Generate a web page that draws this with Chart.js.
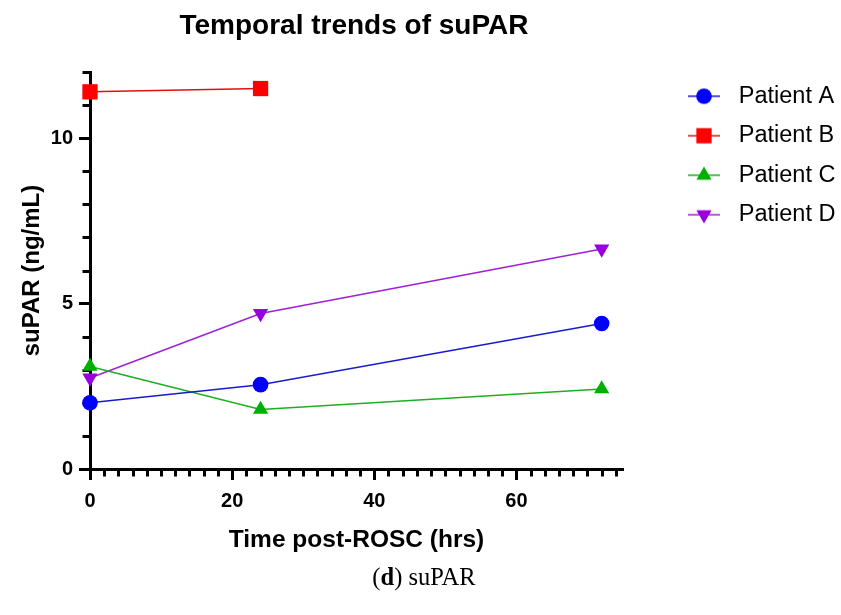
<!DOCTYPE html>
<html><head><meta charset="utf-8">
<script src="https://cdn.jsdelivr.net/npm/chart.js@4.4.1/dist/chart.umd.min.js"></script>
<style>
html,body{margin:0;padding:0;background:#fff;}
#wrap{position:relative;width:841px;height:615px;overflow:hidden;}
canvas{position:absolute;left:0;top:0;}
#title{position:absolute;left:154px;width:400px;top:8px;text-align:center;font:bold 28px "Liberation Sans",Arial,sans-serif;color:#000;line-height:34px;white-space:nowrap;}
#cap{position:absolute;left:324px;width:200px;top:562px;text-align:center;font:24.5px "Liberation Serif","Times New Roman",serif;color:#000;line-height:30px;white-space:nowrap;}
</style></head>
<body>
<div id="wrap">
<canvas id="c" width="841" height="615"></canvas>
<div id="title">Temporal trends of suPAR</div>
<div id="cap">(<b>d</b>) suPAR</div>
</div>
<script>
// ---- data ----
const timePoints = [0, 24, 72];
const patientA = [2.0, 2.55, 4.4];
const patientB = [11.4, 11.5, null];
const patientC = [3.1, 1.8, 2.42];
const patientD = [2.75, 4.7, 6.65];
const seriesNames = ['Patient A', 'Patient B', 'Patient C', 'Patient D'];
const xTickLabels = [0, 20, 40, 60];
const yTickLabels = [0, 5, 10];
const xMinorStep = 2;
const yMinorStep = 1;
const xMax = 75;
const yMax = 12;

// ---- styles ----
const FONT = '"Liberation Sans", Arial, sans-serif';
const lineColors = ['#1a1ad0', '#e01010', '#1fae1f', '#a020d8'];
const markColors = ['#0000ff', '#ff0000', '#00b000', '#9900dd'];
const pStyles = ['circle', 'rect', 'triangle', 'triangle'];
const pRot = [0, 0, 0, 180];
const pRad = [7.8, 10.8, 8.8, 8.8];

function toPts(vals) {
  return timePoints.map((t, i) => ({x: t, y: vals[i]})).filter(p => p.y !== null);
}
const seriesVals = [patientA, patientB, patientC, patientD];

const xMinor = [];
for (let v = xMinorStep; v <= xMax; v += xMinorStep) if (!xTickLabels.includes(v)) xMinor.push(v);
const yMinor = [];
for (let v = yMinorStep; v <= yMax; v += yMinorStep) if (!yTickLabels.includes(v)) yMinor.push(v);

// legend icons: line with marker
function makeIcon(i) {
  const c = document.createElement('canvas');
  c.width = 34; c.height = 24;
  const g = c.getContext('2d');
  g.strokeStyle = lineColors[i]; g.lineWidth = 1.5;
  g.beginPath(); g.moveTo(1, 12); g.lineTo(33, 12); g.stroke();
  g.fillStyle = markColors[i];
  const cx = 17, cy = 12, r = pRad[i];
  g.beginPath();
  if (pStyles[i] === 'circle') {
    g.arc(cx, cy, r, 0, Math.PI * 2);
  } else if (pStyles[i] === 'rect') {
    const s = r * Math.SQRT1_2;
    g.rect(cx - s, cy - s, 2 * s, 2 * s);
  } else {
    const dir = pRot[i] === 180 ? -1 : 1;
    for (let k = 0; k < 3; k++) {
      const a = -Math.PI / 2 + k * 2 * Math.PI / 3;
      const px = cx + r * Math.cos(a), py = cy + dir * r * Math.sin(a);
      if (k === 0) g.moveTo(px, py); else g.lineTo(px, py);
    }
    g.closePath();
  }
  g.fill();
  return c;
}
const legendIcons = seriesNames.map((_, i) => makeIcon(i));

const minorTicks = {
  id: 'minorTicks',
  beforeDatasetsDraw(chart) {
    const {ctx, chartArea, scales: {x, y}} = chart;
    ctx.save();
    ctx.strokeStyle = '#000';
    ctx.lineWidth = 3;
    xMinor.forEach(v => {
      const px = Math.round(x.getPixelForValue(v)) + 0.5;
      ctx.beginPath(); ctx.moveTo(px, chartArea.bottom); ctx.lineTo(px, chartArea.bottom + 7.5); ctx.stroke();
    });
    yMinor.forEach(v => {
      const py = Math.round(y.getPixelForValue(v)) + 0.5;
      ctx.beginPath(); ctx.moveTo(chartArea.left, py); ctx.lineTo(chartArea.left - 7.5, py); ctx.stroke();
    });
    ctx.restore();
  }
};
const legendPlace = {
  id: 'legendPlace',
  afterLayout(chart) {
    const lg = chart.legend; if (!lg) return;
    const w = lg.width, h = lg.height;
    lg.left = 665; lg.right = 665 + w;
    lg.top = 68.5; lg.bottom = 68.5 + h;
  }
};

Chart.defaults.font.family = FONT;
Chart.defaults.color = '#000';

new Chart(document.getElementById('c'), {
  type: 'line',
  data: {
    datasets: seriesVals.map((vals, i) => ({
      label: seriesNames[i],
      data: toPts(vals),
      borderColor: lineColors[i],
      backgroundColor: markColors[i],
      borderWidth: 1.5,
      pointStyle: pStyles[i],
      rotation: pRot[i],
      pointRadius: pRad[i],
      pointHoverRadius: pRad[i],
      pointBackgroundColor: markColors[i],
      pointBorderColor: markColors[i],
      pointBorderWidth: 0,
      clip: false,
      tension: 0
    }))
  },
  options: {
    responsive: false,
    animation: false,
    devicePixelRatio: 1,
    layout: {padding: {top: 72, left: 0, right: 0, bottom: 0}},
    plugins: {
      title: {display: false},
      tooltip: {enabled: false},
      legend: {
        position: 'right',
        align: 'start',
        labels: {
          usePointStyle: true,
          pointStyleWidth: 46,
          padding: 16,
          color: '#000',
          font: {size: 23.5, family: FONT},
          generateLabels(chart) {
            const items = Chart.defaults.plugins.legend.labels.generateLabels(chart);
            items.forEach((it, i) => { it.pointStyle = legendIcons[i]; it.rotation = 0; });
            return items;
          }
        }
      }
    },
    scales: {
      x: {
        type: 'linear', min: 0, max: xMax,
        afterBuildTicks: s => { s.ticks = xTickLabels.map(v => ({value: v})); },
        afterFit: s => { s.height = 146; s.paddingRight = 218; },
        border: {display: true, width: 3, color: '#000'},
        grid: {drawOnChartArea: false, drawTicks: true, tickLength: 11, tickWidth: 3, tickColor: '#000'},
        ticks: {color: '#000', font: {size: 20, weight: 'bold'}, padding: 9, maxRotation: 0, autoSkip: false},
        title: {display: true, text: 'Time post-ROSC (hrs)', color: '#000', font: {size: 24.5, weight: 'bold'}, padding: {top: 0, bottom: 60}}
      },
      y: {
        type: 'linear', min: 0, max: yMax,
        afterBuildTicks: s => { s.ticks = yTickLabels.map(v => ({value: v})); },
        afterFit: s => { s.width = 90; },
        border: {display: true, width: 3, color: '#000'},
        grid: {drawOnChartArea: false, drawTicks: true, tickLength: 11, tickWidth: 3, tickColor: '#000'},
        ticks: {color: '#000', font: {size: 20, weight: 'bold'}, padding: 6},
        title: {display: true, text: 'suPAR (ng/mL)', color: '#000', font: {size: 24, weight: 'bold'}, padding: {top: 18, bottom: 0}}
      }
    }
  },
  plugins: [minorTicks, legendPlace]
});
</script>
</body></html>
